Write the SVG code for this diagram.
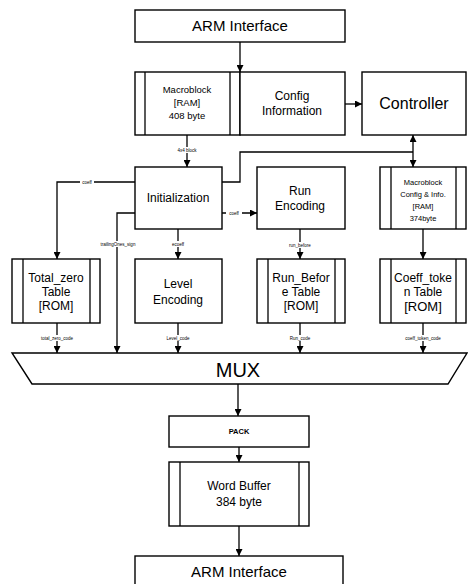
<svg xmlns="http://www.w3.org/2000/svg" width="468" height="584" viewBox="0 0 468 584">
<defs>
<marker id="ah" viewBox="0 0 10 10" refX="10" refY="5" markerWidth="7" markerHeight="7" markerUnits="userSpaceOnUse" orient="auto"><path d="M0,0 L10,5 L0,10 z" fill="#000"/></marker>
</defs>
<style>
.box{fill:#fff;stroke:#000;stroke-width:1.4}
.strip{stroke:#000;stroke-width:1.3}
.t{font-family:"Liberation Sans",Arial,sans-serif;fill:#000;text-anchor:middle}
.big{font-size:15px}
.mid{font-size:12px}
.sm{font-size:9.5px}
.tiny{font-size:4.5px}
.c{fill:none;stroke:#000;stroke-width:1.3}
.ca{fill:none;stroke:#000;stroke-width:1.3;marker-end:url(#ah)}
</style>
<rect width="468" height="584" fill="#fff"/>

<g id="arm_top"><rect class="box" x="135" y="10" width="210" height="32"/><text class="t big" x="240" y="31">ARM Interface</text></g>

<g id="macroblock_ram"><rect class="box" x="135" y="72" width="105" height="63"/><line class="strip" x1="145" y1="72" x2="145" y2="135"/><line class="strip" x1="230" y1="72" x2="230" y2="135"/>
<text class="t sm" x="187" y="93">Macroblock</text><text class="t sm" x="187" y="106">[RAM]</text><text class="t sm" x="187" y="119">408 byte</text></g>

<g id="config_info"><rect class="box" x="240" y="72" width="105" height="63"/><text class="t mid" x="292" y="100">Config</text><text class="t mid" x="292" y="115">Information</text></g>

<g id="controller"><rect class="box" x="362" y="72" width="104" height="63"/><text class="t" font-size="16" x="414" y="109">Controller</text></g>

<g id="initialization"><rect class="box" x="135" y="167" width="87" height="62"/><text class="t mid" x="178" y="202">Initialization</text></g>

<g id="run_encoding"><rect class="box" x="257" y="167" width="88" height="62"/><text class="t mid" x="300" y="195">Run</text><text class="t mid" x="300" y="210">Encoding</text></g>

<g id="mb_config"><rect class="box" x="380" y="167" width="86" height="62"/><line class="strip" x1="391" y1="167" x2="391" y2="229"/><line class="strip" x1="456" y1="167" x2="456" y2="229"/>
<text class="t" font-size="7.5" x="423" y="185">Macroblock</text><text class="t" font-size="7.5" x="423" y="197">Config &amp; Info.</text><text class="t" font-size="7.5" x="423" y="209">[RAM]</text><text class="t" font-size="7.5" x="423" y="221">374byte</text></g>

<g id="total_zero"><rect class="box" x="12" y="259" width="88" height="64"/><line class="strip" x1="23" y1="259" x2="23" y2="323"/><line class="strip" x1="90" y1="259" x2="90" y2="323"/>
<text class="t mid" x="56" y="282">Total_zero</text><text class="t mid" x="56" y="296">Table</text><text class="t mid" x="56" y="310">[ROM]</text></g>

<g id="level_encoding"><rect class="box" x="135" y="259" width="87" height="64"/><text class="t mid" x="178" y="288">Level</text><text class="t mid" x="178" y="304">Encoding</text></g>

<g id="run_before"><rect class="box" x="257" y="259" width="88" height="64"/><line class="strip" x1="268" y1="259" x2="268" y2="323"/><line class="strip" x1="335" y1="259" x2="335" y2="323"/>
<text class="t mid" x="301" y="282">Run_Befor</text><text class="t mid" x="301" y="296">e Table</text><text class="t mid" x="301" y="310">[ROM]</text></g>

<g id="coeff_token"><rect class="box" x="380" y="259" width="86" height="64"/><line class="strip" x1="391" y1="259" x2="391" y2="323"/><line class="strip" x1="456" y1="259" x2="456" y2="323"/>
<text class="t mid" x="423" y="282">Coeff_toke</text><text class="t mid" x="423" y="296">n Table</text><text class="t" font-size="13" x="423" y="311">[ROM]</text></g>

<g id="mux"><path class="box" d="M12,353 L467,353 L448,384 L32,384 Z"/><text class="t" font-size="20" x="238" y="377">MUX</text></g>

<g id="pack"><rect class="box" x="169" y="416" width="140" height="31"/><text class="t" font-size="7.5" font-weight="bold" x="239" y="434">PACK</text></g>

<g id="word_buffer"><rect class="box" x="169" y="462" width="140" height="64"/><line class="strip" x1="180" y1="462" x2="180" y2="526"/><line class="strip" x1="299" y1="462" x2="299" y2="526"/>
<text class="t mid" x="239" y="490">Word Buffer</text><text class="t mid" x="239" y="506">384 byte</text></g>

<g id="arm_bottom"><rect class="box" x="135" y="556" width="208" height="34"/><text class="t big" x="239" y="577">ARM Interface</text></g>

<g id="connectors">
<line class="ca" x1="240" y1="42" x2="240" y2="72"/>
<line class="ca" x1="345" y1="104" x2="362" y2="104"/>
<line class="ca" x1="187" y1="135" x2="187" y2="167"/>
<polyline class="c" points="222,182 240,182 240,152 413,152"/>
<line class="ca" x1="413" y1="152" x2="413" y2="135"/>
<line class="ca" x1="413" y1="152" x2="413" y2="167"/>
<polyline class="ca" points="135,182 57,182 57,259"/>
<polyline class="ca" points="135,213 117,213 117,353"/>
<line class="ca" x1="178" y1="229" x2="178" y2="259"/>
<line class="ca" x1="222" y1="213" x2="257" y2="213"/>
<line class="ca" x1="300" y1="229" x2="300" y2="259"/>
<line class="ca" x1="423" y1="229" x2="423" y2="259"/>
<line class="ca" x1="57" y1="323" x2="57" y2="353"/>
<line class="ca" x1="178" y1="323" x2="178" y2="353"/>
<line class="ca" x1="300" y1="323" x2="300" y2="353"/>
<line class="ca" x1="423" y1="323" x2="423" y2="353"/>
<line class="ca" x1="238" y1="384" x2="238" y2="416"/>
<line class="ca" x1="239" y1="447" x2="239" y2="462"/>
<line class="ca" x1="239" y1="526" x2="239" y2="556"/>
<g class="t tiny">
<rect x="174" y="147" width="26" height="6" fill="#fff"/><text x="187" y="152">4x4 block</text>
<rect x="80" y="179" width="14" height="6" fill="#fff"/><text x="87" y="184">coeff</text>
<rect x="89" y="241" width="58" height="6" fill="#fff"/><text x="118" y="246">trailingOnes_sign</text>
<rect x="170" y="241" width="16" height="6" fill="#fff"/><text x="178" y="246">ecoeff</text>
<rect x="226" y="210" width="16" height="6" fill="#fff"/><text x="234" y="215">coeff</text>
<rect x="289" y="242" width="22" height="6" fill="#fff"/><text x="300" y="247">run_before</text>
<rect x="40" y="335" width="34" height="6" fill="#fff"/><text x="57" y="340">total_zero_code</text>
<rect x="165" y="335" width="26" height="6" fill="#fff"/><text x="178" y="340">Level_code</text>
<rect x="289" y="335" width="22" height="6" fill="#fff"/><text x="300" y="340">Run_code</text>
<rect x="404" y="335" width="38" height="6" fill="#fff"/><text x="423" y="340">coeff_token_code</text>
</g>
</g>
</svg>
